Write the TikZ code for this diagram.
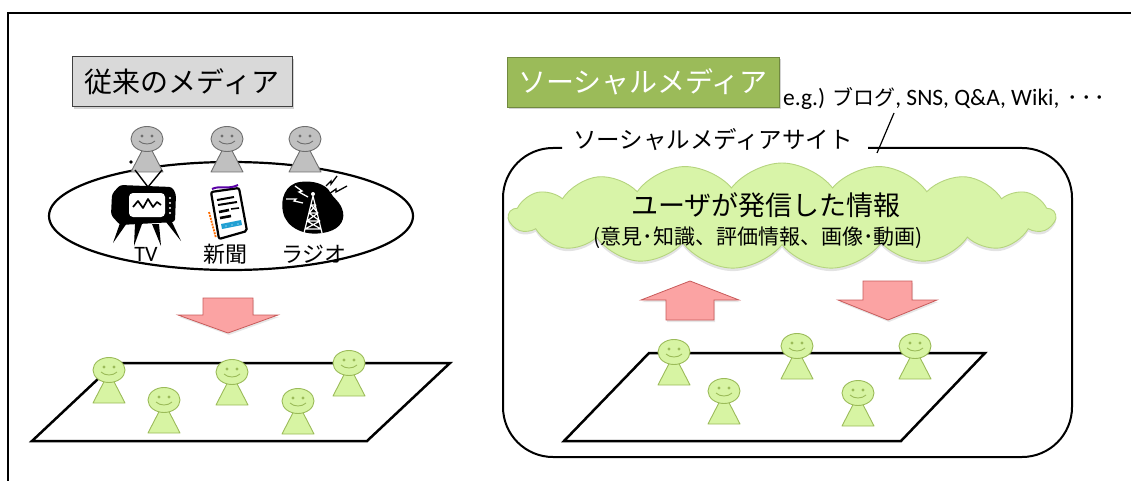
\documentclass[tikz,border=0pt]{standalone}
\usepackage{fontspec}
\setmainfont{Noto Sans CJK JP}
\newfontfamily\lat{Carlito}
\newfontfamily\jp{Noto Sans CJK JP}
\usetikzlibrary{shapes.symbols,shadows}

\definecolor{boxgray}{HTML}{D9D9D9}
\definecolor{boxline}{HTML}{404040}
\definecolor{socgreen}{HTML}{9BBB59}
\definecolor{socline}{HTML}{71893F}
\definecolor{cloudfill}{HTML}{D8F4A8}
\definecolor{cloudline}{HTML}{B5D47E}
\definecolor{arrowfill}{HTML}{FBA3A3}
\definecolor{arrowline}{HTML}{C85A5A}
\definecolor{userfill}{HTML}{D7F4A3}
\definecolor{userline}{HTML}{9BBB59}
\definecolor{viewfill}{HTML}{C0C0C0}
\definecolor{viewline}{HTML}{6E6E6E}

\tikzset{
  pics/person/.style 2 args={code={
    \path[fill=#1, draw=#2, line width=0.9pt, line join=round]
      (-16,33) -- (16,33) -- (0,2) -- cycle;
    \path[fill=#1, draw=#2, line width=0.9pt] (0,0) ellipse [x radius=16, y radius=12.5];
    \fill[#2] (-5,-3) circle [radius=1.7] (5,-3) circle [radius=1.7];
    \draw[#2, line width=0.9pt] (-8,2) .. controls (-4,6) and (4,6) .. (8,2);
  }},
  heavy/.style={line width=2.2pt, line join=miter},
  labelbox/.style={minimum height=50pt, inner sep=0pt,
    font=\fontsize{28}{30}\selectfont,
    drop shadow={opacity=0.35, shadow xshift=2pt, shadow yshift=-2.5pt}},
  pinkarrow/.style={fill=arrowfill, draw=arrowline, line width=0.8pt, line join=miter,
    drop shadow={opacity=0.2, shadow xshift=1pt, shadow yshift=-2pt}},
  medialabel/.style={font=\fontsize{22}{24}\selectfont, inner sep=0pt}
}

\begin{document}
\begin{tikzpicture}[x=1pt, y=-1pt]
\useasboundingbox (0,0) rectangle (1131,481);

% outer frame
\draw[line width=2pt] (8,481) -- (8,13) -- (1131,13);

% ---------------- traditional media ----------------
\node[labelbox, draw=boxline, line width=0.8pt, fill=boxgray, minimum width=220pt]
  (trad) at (182,81.5) {従来のメディア};

\draw[heavy] (231,216) ellipse [x radius=182, y radius=54];

% audience of the mass media
\pic at (147,139) {person={viewfill}{viewline}};
\pic at (227,139) {person={viewfill}{viewline}};
\pic at (305,139) {person={viewfill}{viewline}};

% TV set
\draw[line width=1.4pt] (135,170) -- (148,187) -- (162,170);
\fill (131,162) circle [radius=1.8];
\fill[rounded corners=3pt] (112,194) -- (120,185) -- (172,187) -- (176,194)
  -- (175,222) -- (120,225) -- (111,215) -- cycle;
\fill[white, rounded corners=4pt] (129,193) rectangle (165,217);
\draw[line width=1.7pt, line join=round] (133,207) -- (138,201) -- (143,208)
  -- (148,199) -- (153,207) -- (157,202) -- (161,205);
\fill[white] (170,198) circle [radius=1.1] (170,203) circle [radius=1.1]
  (170,208) circle [radius=1.1] (170,213) circle [radius=1.1];
\fill (120,223) -- (127,223) -- (113,243) -- cycle;
\fill (135,224) -- (142,224) -- (134,246) -- cycle;
\fill (152,224) -- (159,224) -- (161,246) -- cycle;
\fill (166,222) -- (172,222) -- (181,241) -- cycle;

% newspaper
\filldraw[fill=white, line width=2.2pt, rounded corners=2pt]
  (211,192) -- (239,188) -- (247,231) -- (219,239) -- cycle;
\draw[violet!70!blue, line width=2pt] (212,189) .. controls (220,185) and (228,190) .. (238,185);
\draw[orange!85!red, line width=1.8pt, dash pattern=on 2pt off 1pt] (209,212) -- (216,238);
\draw[line width=2pt] (217,200) -- (234,197) (218,205) -- (237,202);
\draw[line width=2.6pt] (219,212) -- (229,210) (220,218) -- (231,216);
\draw[line width=1.6pt] (231,209) -- (239,208);
\fill[cyan!70!teal] (221,224) -- (241,220) -- (242,225) -- (222,229) -- cycle;
\fill[white] (226,226) circle [radius=0.7] (232,225) circle [radius=0.7] (238,224) circle [radius=0.7];

% radio
\fill (300,182) .. controls (285,184) and (280,200) .. (283,212)
  .. controls (286,228) and (305,236) .. (322,233)
  .. controls (338,231) and (345,222) .. (343,212)
  .. controls (341,202) and (333,198) .. (330,192)
  .. controls (326,184) and (312,180) .. (300,182) -- cycle;
\draw[white, line width=1.2pt] (313,196) -- (304,233) (313,196) -- (322,233)
  (311,205) -- (316,205) (309,213) -- (318,213) (307,221) -- (320,221) (305,229) -- (321,229)
  (311,205) -- (318,213) (316,205) -- (309,213) (309,213) -- (320,221) (318,213) -- (307,221)
  (307,221) -- (321,229) (320,221) -- (305,229);
\fill[white] (313,194) circle [radius=2];
\draw[white, line width=1.3pt] (295,186) -- (302,191) -- (299,192) -- (308,197)
  (286,199) -- (296,199) -- (294,201) -- (303,203);
\draw[line width=1.3pt] (326,186) -- (331,181) -- (331,184) -- (337,176)
  (329,194) -- (336,189) -- (336,192) -- (347,186);

\node[medialabel] (tv) at (146,254) {\lat TV};
\node[medialabel] (paper) at (225,254) {新聞};
\node[medialabel] (radio) at (314,254) {ラジオ};

\draw[pinkarrow] (203,298) -- (253,298) -- (253,315) -- (278,315) -- (228,333)
  -- (178,315) -- (203,315) -- cycle;

% people who receive the broadcast
\draw[line width=2.5pt, line join=miter] (115,363) -- (450,363) -- (367,441) -- (32,441) -- cycle;
\pic at (109,370) {person={userfill}{userline}};
\pic at (164,400) {person={userfill}{userline}};
\pic at (232,372) {person={userfill}{userline}};
\pic at (298,401) {person={userfill}{userline}};
\pic at (349,363) {person={userfill}{userline}};

% ---------------- social media ----------------
\node[labelbox, draw=socline, line width=0.8pt, fill=socgreen, text=white, minimum width=272pt]
  (soc) at (643,82) {ソーシャルメディア};

\node[anchor=west, inner sep=0pt, font=\fontsize{23.5}{26}\selectfont]
  (eg) at (783,99) {\lat e.g.) {\jp\fontsize{21}{23}\selectfont ブログ}, SNS, Q\&A, Wiki,
    {\jp\fontsize{21}{23}\selectfont\kern3pt ･\kern3pt･\kern3pt･}};

\node[inner sep=0pt, font=\fontsize{23.5}{26}\selectfont] (site) at (713,140) {ソーシャルメディアサイト};

\draw[line width=2pt, rounded corners=50pt] (562,148) -- (503,148) -- (503,457)
  -- (1072,457) -- (1072,148) -- (868,148);
\coordinate (slashtop) at (894,113);
\coordinate (slashbot) at (877,153);
\draw[line width=1.2pt] (slashtop) -- (slashbot);

\node[cloud, cloud puffs=17, cloud puff arc=105, aspect=5.1, minimum width=546pt,
  minimum height=106pt, inner sep=0pt, fill=cloudfill, draw=cloudline, line width=0.9pt,
  drop shadow={opacity=0.22, shadow xshift=0pt, shadow yshift=-3pt}] (cloud) at (782,216) {};
\node[font=\fontsize{27}{30}\selectfont, inner sep=0pt] (info) at (766,205) {ユーザが発信した情報};
\node[font=\fontsize{21}{24}\selectfont, inner sep=0pt] (detail) at (758,238) {(意見･知識、評価情報、画像･動画)};

\draw[pinkarrow] (690,281) -- (739,300) -- (714,300) -- (714,320) -- (666,320)
  -- (666,300) -- (641,300) -- cycle;
\draw[pinkarrow] (863,281) -- (912,281) -- (912,300) -- (937,300) -- (888,320)
  -- (838,300) -- (863,300) -- cycle;

% users of the site
\draw[line width=2.5pt, line join=miter] (649,353) -- (985,353) -- (901,441) -- (564,441) -- cycle;
\pic at (674,352) {person={userfill}{userline}};
\pic at (724,391) {person={userfill}{userline}};
\pic at (797,346) {person={userfill}{userline}};
\pic at (858,393) {person={userfill}{userline}};
\pic at (915,346) {person={userfill}{userline}};

\end{tikzpicture}
\end{document}
